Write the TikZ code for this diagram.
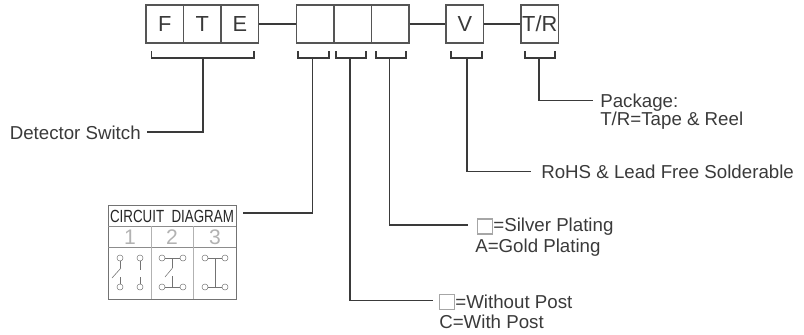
\documentclass[tikz,border=0pt]{standalone}
\usepackage{fontspec}
\setmainfont{Liberation Sans}
\definecolor{inkgray}{HTML}{3A3A3A}
\definecolor{boxgray}{HTML}{555555}
\tikzset{
    cellbox/.style={draw=boxgray,line width=0.9pt,minimum width=37.5\unitpx,minimum height=38\unitpx,inner sep=0pt,text=inkgray,font=\fontsize{15.5}{15.5}\selectfont},
    label/.style={anchor=west,inner sep=0pt,text=inkgray,font=\fontsize{13.3}{13.3}\selectfont},
    blank/.style={draw=black!35,line width=0.8pt,minimum width=15\unitpx,minimum height=15\unitpx,inner sep=0pt,anchor=west},
    lead/.style={draw=inkgray,line width=0.9pt},
    wire/.style={draw=black!55,line width=0.4pt},
    pole/.style={draw=black!55,line width=0.35pt,circle,minimum size=6\unitpx,inner sep=0pt},
    digit/.style={text=black!30,inner sep=0pt,font=\fontsize{15}{15}\selectfont},
}
\newcommand{\unitpx}{*0.7113pt}
\begin{document}
\begin{tikzpicture}[x=0.025cm,y=-0.025cm]
    \useasboundingbox (0,0) rectangle (804,335);
    % code boxes
    \node[cellbox] (boxF) at (164.8,24) {F};
    \node[cellbox] (boxT) at (202.3,24) {T};
    \node[cellbox] (boxE) at (239.8,24) {E};
    \node[cellbox] (boxA) at (315.3,24) {};
    \node[cellbox] (boxB) at (352.8,24) {};
    \node[cellbox] (boxC) at (390.3,24) {};
    \node[cellbox] (boxV) at (464.8,24) {V};
    \node[cellbox] (boxR) at (539.8,24) {T/R};
    \draw[lead] (boxE) -- (boxA);
    \draw[lead] (boxC) -- (boxV);
    \draw[lead] (boxV) -- (boxR);

    % brackets under the boxes
    \draw[lead] (151.5,51)--(151.5,58)--(254,58)--(254,51);
    \draw[lead] (298,51)--(298,58)--(329,58)--(329,51);
    \draw[lead] (336,51)--(336,58)--(366,58)--(366,51);
    \draw[lead] (376,51)--(376,58)--(406,58)--(406,51);
    \draw[lead] (451,51)--(451,58)--(482,58)--(482,51);
    \draw[lead] (525,51)--(525,58)--(555,58)--(555,51);
    \coordinate (tapF) at (203,58);
    \coordinate (tapA) at (312.7,58);
    \coordinate (tapB) at (350,58);
    \coordinate (tapC) at (389.7,58);
    \coordinate (tapV) at (467,58);
    \coordinate (tapR) at (539,58);

    % texts
    \node[label] (pkgA) at (600,102.5) {Package:};
    \node[label] (pkgB) at (600,121) {T/R=Tape \& Reel};
    \node[label] (rohs) at (541,171.5) {RoHS \& Lead Free Solderable};
    \node[blank] (silverbox) at (477,226.5) {};
    \node[label,right=0pt] (silverA) at (silverbox.east) {=Silver Plating};
    \node[label] (silverB) at (475,247.5) {A=Gold Plating};
    \node[blank] (postbox) at (439,302) {};
    \node[label,right=0pt] (postA) at (postbox.east) {=Without Post};
    \node[label] (postB) at (439,321.5) {C=With Post};
    \node[label,anchor=east] (detector) at (141,133) {Detector Switch};

    % leaders
    \coordinate (endR) at (593,100.5);
    \coordinate (endV) at (531,171.5);
    \coordinate (endC) at (468,225);
    \coordinate (endB) at (433,300.5);
    \coordinate (endF) at (147,132);
    \coordinate (endA) at (243,213);
    \draw[lead] (tapR) |- (endR);
    \draw[lead] (tapV) |- (endV);
    \draw[lead] (tapC) |- (endC);
    \draw[lead] (tapB) |- (endB);
    \draw[lead] (tapF) |- (endF);
    \draw[lead] (tapA) |- (endA);

    % circuit table
    \draw[draw=black!55,line width=0.5pt] (108,205) rectangle (236,299);
    \draw[draw=black!45,line width=0.4pt] (108,226)--(236,226);
    \draw[draw=black!45,line width=0.4pt] (108,247)--(236,247);
    \draw[draw=black!30,line width=0.4pt] (151,226)--(151,299);
    \draw[draw=black!30,line width=0.4pt] (193.5,226)--(193.5,299);
    \node[text=black!85,inner sep=0pt,xscale=0.76,font=\fontsize{12.5}{12.5}\selectfont] (title) at (172,216) {CIRCUIT\hspace{0.55em}DIAGRAM};
    \node[digit] (numA) at (130,237) {1};
    \node[digit] (numB) at (172,237) {2};
    \node[digit] (numC) at (215,237) {3};

    % switch 1
    \node[pole] (a1) at (120,258) {};
    \node[pole] (a2) at (140,258) {};
    \node[pole] (a3) at (120,287) {};
    \node[pole] (a4) at (140,287) {};
    \draw[wire] (a1)--(120,268);
    \draw[wire] (112,278)--(121,268);
    \draw[wire] (120,277)--(a3);
    \draw[wire] (a2)--(140,270);
    \draw[wire] (140,277)--(a4);

    % switch 2
    \node[pole] (b1) at (162,258) {};
    \node[pole] (b2) at (183,258) {};
    \node[pole] (b3) at (162,287) {};
    \node[pole] (b4) at (183,287) {};
    \draw[wire] (b1)--(b2);
    \draw[wire] (b3)--(b4);
    \draw[wire] (172.5,258)--(172.5,268);
    \draw[wire] (165,277)--(172.5,268);
    \draw[wire] (172.5,276)--(172.5,287);

    % switch 3
    \node[pole] (c1) at (205,258) {};
    \node[pole] (c2) at (225,258) {};
    \node[pole] (c3) at (205,287) {};
    \node[pole] (c4) at (225,287) {};
    \draw[wire] (c1)--(c2);
    \draw[wire] (c3)--(c4);
    \draw[wire] (215,258)--(215,287);
\end{tikzpicture}
\end{document}
